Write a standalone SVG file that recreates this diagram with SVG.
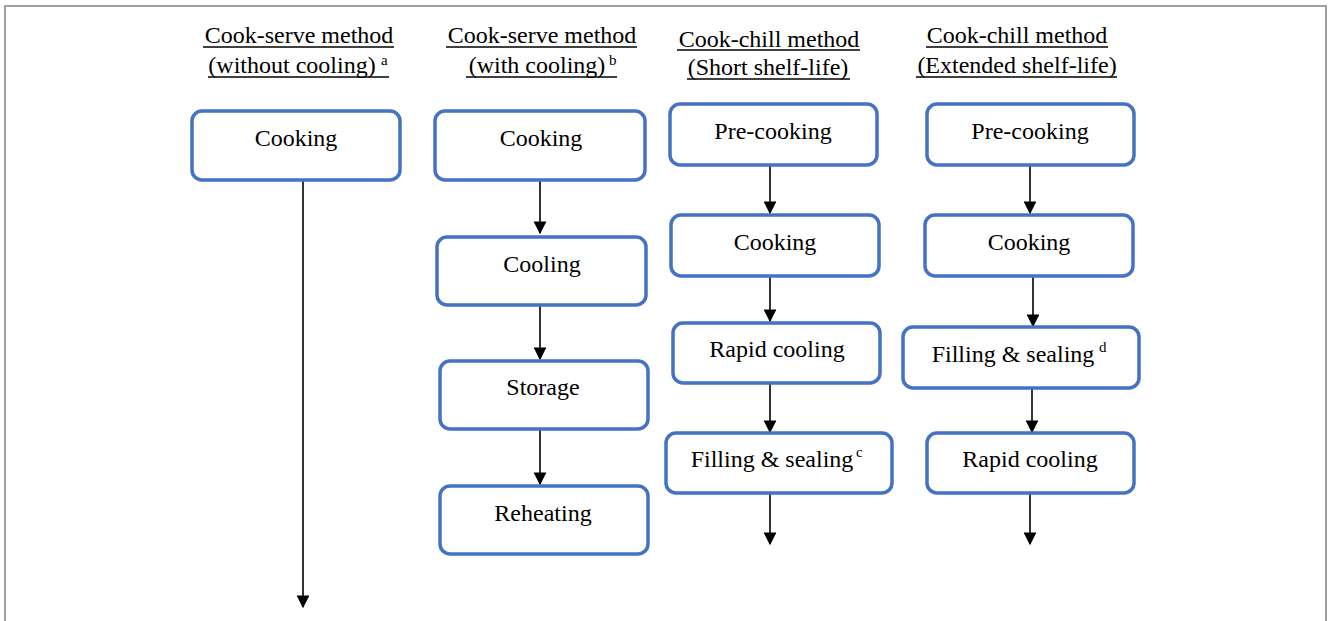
<svg xmlns="http://www.w3.org/2000/svg" width="1329" height="621" viewBox="0 0 1329 621">
<style>
text{font-family:"Liberation Serif","Times New Roman",serif;fill:#000}
.t{font-size:24px;text-anchor:middle}
.h{font-size:24px;text-anchor:middle}
.sup{font-size:15px}
.box{fill:#fff;stroke:#4472C4;stroke-width:3.5}
.ul{stroke:#000;stroke-width:1.3}
.c{stroke:#000;stroke-width:1.6;fill:none;marker-end:url(#ah)}
</style>
<defs>
<marker id="ah" viewBox="0 0 10 10" refX="9" refY="5" markerWidth="8" markerHeight="8" markerUnits="strokeWidth" orient="auto">
<path d="M0,0 L10,5 L0,10 z" fill="#000"/>
</marker>
</defs>
<rect x="0" y="0" width="1329" height="621" fill="#fff"/>
<rect x="5" y="6" width="1321" height="650" fill="none" stroke="#A0A0A0" stroke-width="2"/>

<g id="titles">
<text class="h" x="299" y="43">Cook-serve method</text>
<line class="ul" x1="203" y1="47" x2="394" y2="47"/>
<text class="h" x="292" y="73">(without cooling)</text>
<text class="sup" x="381" y="65">a</text>
<line class="ul" x1="208" y1="77" x2="389" y2="77"/>

<text class="h" x="542" y="43">Cook-serve method</text>
<line class="ul" x1="446" y1="47" x2="637" y2="47"/>
<text class="h" x="537" y="73">(with cooling)</text>
<text class="sup" x="609" y="65">b</text>
<line class="ul" x1="466" y1="77" x2="617" y2="77"/>

<text class="h" x="769" y="47">Cook-chill method</text>
<line class="ul" x1="677" y1="50" x2="860" y2="50"/>
<text class="h" x="768" y="75">(Short shelf-life)</text>
<line class="ul" x1="687" y1="79" x2="850" y2="79"/>

<text class="h" x="1017" y="43">Cook-chill method</text>
<line class="ul" x1="926" y1="47" x2="1108" y2="47"/>
<text class="h" x="1017" y="73">(Extended shelf-life)</text>
<line class="ul" x1="916" y1="77" x2="1117" y2="77"/>
</g>

<g id="connectors">
<line class="c" x1="303" y1="180" x2="303" y2="607"/>
<line class="c" x1="540" y1="180" x2="540" y2="233"/>
<line class="c" x1="540" y1="305" x2="540" y2="359"/>
<line class="c" x1="540" y1="429" x2="540" y2="484"/>
<line class="c" x1="770" y1="165" x2="770" y2="213"/>
<line class="c" x1="770" y1="276" x2="770" y2="321"/>
<line class="c" x1="770" y1="383" x2="770" y2="432"/>
<line class="c" x1="770" y1="493" x2="770" y2="544"/>
<line class="c" x1="1030" y1="165" x2="1030" y2="213"/>
<line class="c" x1="1033" y1="276" x2="1033" y2="326"/>
<line class="c" x1="1032" y1="388" x2="1032" y2="432"/>
<line class="c" x1="1030" y1="493" x2="1030" y2="544"/>
</g>

<g id="n1_cooking"><rect class="box" x="192" y="111" width="208" height="69" rx="10"/><text class="t" x="296" y="146">Cooking</text></g>

<g id="n2_cooking"><rect class="box" x="435" y="111" width="210" height="69" rx="10"/><text class="t" x="541" y="146">Cooking</text></g>
<g id="n2_cooling"><rect class="box" x="437" y="237" width="209" height="68" rx="10"/><text class="t" x="542" y="272">Cooling</text></g>
<g id="n2_storage"><rect class="box" x="440" y="361" width="208" height="68" rx="10"/><text class="t" x="543" y="395">Storage</text></g>
<g id="n2_reheating"><rect class="box" x="440" y="486" width="208" height="68" rx="10"/><text class="t" x="543" y="521">Reheating</text></g>

<g id="n3_precooking"><rect class="box" x="670" y="104" width="207" height="61" rx="10"/><text class="t" x="773" y="139">Pre-cooking</text></g>
<g id="n3_cooking"><rect class="box" x="671" y="215" width="208" height="61" rx="10"/><text class="t" x="775" y="250">Cooking</text></g>
<g id="n3_rapid"><rect class="box" x="673" y="323" width="207" height="60" rx="10"/><text class="t" x="777" y="357">Rapid cooling</text></g>
<g id="n3_filling"><rect class="box" x="666" y="433" width="226" height="60" rx="10"/><text class="t" x="772" y="467">Filling &amp; sealing</text><text class="sup" x="856" y="457">c</text></g>

<g id="n4_precooking"><rect class="box" x="927" y="104" width="207" height="61" rx="10"/><text class="t" x="1030" y="139">Pre-cooking</text></g>
<g id="n4_cooking"><rect class="box" x="925" y="215" width="208" height="61" rx="10"/><text class="t" x="1029" y="250">Cooking</text></g>
<g id="n4_filling"><rect class="box" x="903" y="327" width="236" height="61" rx="10"/><text class="t" x="1013" y="362">Filling &amp; sealing</text><text class="sup" x="1099" y="352">d</text></g>
<g id="n4_rapid"><rect class="box" x="927" y="433" width="207" height="60" rx="10"/><text class="t" x="1030" y="467">Rapid cooling</text></g>
</svg>
